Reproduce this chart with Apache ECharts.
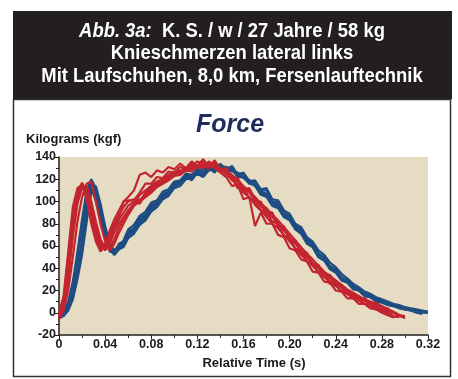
<!DOCTYPE html>
<html>
<head>
<meta charset="utf-8">
<script src="https://cdn.jsdelivr.net/npm/echarts@6/dist/echarts.min.js"></script>
<style>
  html, body { margin: 0; padding: 0; background: #fff; }
  #chart { width: 458px; height: 379px; }
</style>
</head>
<body>
<div id="chart"></div>
<script>
// relative time (s), shared by all traces
var times = [0, 0.004, 0.008, 0.012, 0.016, 0.020, 0.024, 0.028, 0.032, 0.036, 0.040, 0.044, 0.048, 0.052, 0.056, 0.060,
  0.065, 0.070, 0.075, 0.080, 0.085, 0.090, 0.095, 0.100, 0.105, 0.110, 0.115, 0.120,
  0.125, 0.130, 0.135, 0.140, 0.145, 0.150, 0.155, 0.160, 0.165, 0.170, 0.175, 0.180,
  0.185, 0.190, 0.195, 0.200, 0.205, 0.210, 0.215, 0.220, 0.225, 0.230, 0.235, 0.240,
  0.245, 0.250, 0.255, 0.260, 0.265, 0.270, 0.275, 0.280, 0.285, 0.290, 0.295, 0.300, 0.305, 0.310, 0.315, 0.320];

// blue traces (kgf)
var blue1 = [-3, -1, 5, 18, 40, 66, 96, 118, 104, 82, 66, 55, 54, 62, 64, 73,
  76, 86, 88, 97, 99, 107, 109, 117, 116, 123, 119, 126,
  124, 130, 126, 133, 127, 131, 123, 125, 119, 118, 110, 110,
  100, 99, 90, 87, 78, 75, 66, 62, 53, 50, 42, 39,
  32, 29, 23, 21, 16, 15, 11, 10, 7, 6, 5, 4, 3, 2, 1, null];
var blue2 = [-2, 0, 8, 25, 50, 78, 104, 116, 110, 90, 72, 60, 52, 57, 61, 69,
  73, 81, 85, 93, 97, 104, 107, 114, 116, 121, 121, 125,
  122, 128, 129, 129, 130, 128, 125, 121, 117, 114, 106, 104,
  96, 94, 86, 83, 75, 71, 62, 59, 50, 47, 40, 37,
  30, 28, 22, 20, 15, 14, 11, 10, 8, 7, 5, 4, 3, 2, 1, 0];
var blue3 = [-4, -2, 4, 14, 34, 58, 88, 112, 100, 84, 68, 57, 52, 58, 63, 71,
  75, 83, 87, 95, 99, 105, 108, 115, 118, 123, 123, 127,
  127, 128, 131, 131, 126, 129, 122, 122, 116, 115, 107, 105,
  99, 95, 88, 85, 77, 73, 65, 61, 53, 49, 41, 38,
  31, 29, 23, 22, 17, 16, 12, 11, 9, 7, 6, 4, 3, 1, null, null];
var blue4 = [-3, 0, 10, 28, 55, 84, 110, 120, 112, 92, 74, 62, 56, 61, 65, 75,
  79, 87, 91, 99, 101, 109, 111, 118, 119, 125, 124, 129,
  129, 132, 133, 132, 131, 130, 125, 125, 118, 117, 109, 107,
  100, 97, 89, 86, 78, 74, 66, 61, 53, 49, 41, 38,
  31, 29, 24, 22, 17, 16, 12, 11, 9, 7, 5, 3, 2, 0, -1, null];
var blue5 = [-5, -3, 2, 12, 30, 52, 82, 108, 114, 98, 78, 62, 54, 57, 59, 67,
  71, 79, 83, 91, 95, 102, 105, 112, 114, 120, 121, 125,
  124, 129, 129, 130, 129, 127, 126, 122, 119, 114, 109, 105,
  98, 95, 87, 84, 75, 72, 63, 59, 50, 47, 39, 36,
  29, 27, 21, 20, 15, 14, 10, 9, 7, 6, 4, 3, 2, 1, 0, 0];
var blue6 = [-4, -2, 3, 15, 36, 62, 92, 116, 108, 88, 70, 58, 53, 59, 62, 70,
  74, 84, 86, 96, 98, 106, 108, 116, 117, 124, 122, 128,
  126, 131, 128, 134, 128, 132, 124, 126, 118, 119, 111, 112,
  102, 101, 92, 89, 80, 77, 68, 64, 56, 52, 45, 41,
  35, 31, 26, 23, 19, 17, 14, 12, 10, 8, 7, 5, 4, 3, 2, 1];

// red traces (kgf)
var red1 = [-4, 12, 50, 90, 110, 116, 104, 84, 66, 57, 62, 74, 84, 92, 100, 104,
  110, 124, 126, 122, 128, 126, 131, 129, 134, 130, 136, 132,
  138, 131, 137, 129, 130, 122, 121, 111, 112, 102, 99, 91,
  90, 79, 76, 67, 63, 55, 52, 43, 41, 33, 31, 25,
  23, 17, 16, 11, 11, 7, 6, 2, 1, -3, -4, null, null, null, null, null];
var red2 = [-2, 8, 40, 80, 105, 114, 110, 92, 74, 60, 58, 66, 76, 84, 90, 96,
  100, 98, 106, 112, 116, 118, 122, 125, 127, 130, 129, 132,
  130, 134, 131, 128, 125, 121, 112, 113, 103, 101, 92, 90,
  82, 80, 69, 68, 57, 56, 46, 44, 36, 34, 26, 25,
  19, 17, 13, 12, 8, 7, 3, 3, -1, -4, null, null, null, null, null, null];
var red3 = [-5, 2, 20, 50, 82, 104, 116, 118, 100, 80, 64, 56, 62, 72, 80, 88,
  96, 100, 104, 110, 114, 118, 120, 124, 126, 128, 131, 130,
  133, 131, 134, 129, 126, 122, 118, 112, 108, 102, 96, 90,
  86, 80, 74, 68, 62, 56, 50, 45, 40, 35, 31, 27,
  23, 19, 16, 13, 11, 9, 7, 5, 2, 0, -3, -4, null, null, null, null];
var red4 = [0, 15, 55, 95, 112, 115, 102, 80, 64, 55, 60, 70, 80, 88, 95, 100,
  102, 100, 108, 114, 118, 120, 124, 127, 126, 130, 132, 136,
  133, 135, 130, 126, 122, 114, 115, 102, 104, 78, 90, 80,
  80, 70, 68, 58, 56, 48, 46, 37, 36, 28, 27, 20,
  19, 13, 13, 8, 8, 4, 3, 0, -2, -4, -3, null, null, null, null, null];
var red5 = [-3, 6, 35, 75, 100, 112, 112, 98, 78, 62, 56, 62, 72, 80, 86, 92,
  98, 102, 104, 108, 113, 116, 119, 123, 124, 128, 127, 131,
  132, 130, 133, 130, 127, 124, 119, 114, 109, 104, 98, 94,
  88, 83, 77, 71, 65, 59, 53, 48, 42, 37, 33, 29,
  25, 21, 18, 15, 12, 10, 8, 6, 3, 1, -2, -3, null, null, null, null];
var red6 = [-6, 4, 30, 68, 98, 113, 114, 100, 82, 66, 58, 58, 66, 76, 84, 90,
  98, 106, 110, 114, 117, 121, 123, 126, 128, 127, 131, 133,
  131, 136, 132, 129, 124, 120, 115, 108, 104, 97, 92, 86,
  80, 76, 70, 64, 58, 52, 47, 42, 37, 32, 28, 24,
  20, 17, 14, 11, 8, 6, 4, 1, -2, -4, null, null, null, null, null, null];
var red7 = [-3, 10, 46, 86, 108, 117, 108, 88, 70, 58, 59, 68, 79, 86, 100, 101,
  101, 108, 116, 116, 122, 121, 127, 126, 131, 129, 134, 131,
  136, 130, 135, 127, 128, 119, 119, 109, 110, 99, 100, 88,
  89, 77, 78, 65, 65, 53, 54, 43, 43, 34, 34, 26,
  25, 19, 18, 13, 13, 9, 9, 5, 4, 0, -2, -5, null, null, null, null];

var blueTraces = [blue1, blue2, blue3, blue4, blue5, blue6];
var redTraces = [red1, red2, red3, red4, red5, red6, red7];

var xTicks = [0, 0.04, 0.08, 0.12, 0.16, 0.20, 0.24, 0.28, 0.32];
var xTickText = ['0', '0.04', '0.08', '0.12', '0.16', '0.20', '0.24', '0.28', '0.32'];

var headerLines = ['K. S. / w / 27 Jahre / 58 kg', 'Knieschmerzen lateral links', 'Mit Laufschuhen, 8,0 km, Fersenlauftechnik'];

function pairs(vals) {
  return times.map(function (t, i) { return [t, vals[i]]; });
}

function trace(vals, color) {
  return {
    type: 'line',
    data: pairs(vals),
    showSymbol: false,
    silent: true,
    connectNulls: false,
    lineStyle: { color: color, width: 2.2 },
    animation: false
  };
}

var series = [];
blueTraces.forEach(function (v) { series.push(trace(v, '#1e4d82')); });
redTraces.forEach(function (v) { series.push(trace(v, '#c32530')); });

var chart = echarts.init(document.getElementById('chart'));
var sans = 'Liberation Sans, Arial, sans-serif';
var labelFont = { fontFamily: sans, fontWeight: 'bold', fontSize: 13, color: '#1a1a1a' };
var headFont = 'bold 20px ' + sans;

function headerText(y, content, rich) {
  return {
    type: 'text', x: 232, y: y, scaleX: 0.92, z: 10,
    style: { text: content, font: headFont, fill: '#fff', align: 'center', verticalAlign: 'middle', rich: rich }
  };
}

chart.setOption({
  animation: false,
  backgroundColor: '#fff',
  graphic: [
    { type: 'rect', shape: { x: 13.5, y: 99.5, width: 437, height: 277 }, style: { fill: '#fff', stroke: '#333', lineWidth: 1.5 }, z: -10 },
    { type: 'rect', shape: { x: 13, y: 11, width: 439, height: 88 }, style: { fill: '#231f20' }, z: -9 },
    headerText(31, '{i|Abb. 3a:}  ' + headerLines[0], { i: { font: 'italic bold 20px ' + sans, fill: '#fff' } }),
    headerText(53, headerLines[1]),
    headerText(76, headerLines[2])
  ],
  title: [
    {
      text: 'Force', left: 225, top: 108, textAlign: 'center',
      textStyle: { color: '#1f2c5a', fontFamily: sans, fontWeight: 'bold', fontStyle: 'italic', fontSize: 25 }
    },
    { text: 'Kilograms (kgf)', left: 21, top: 128, textStyle: labelFont },
    { text: 'Relative Time (s)', left: 249, top: 352, textAlign: 'center', textStyle: labelFont }
  ],
  grid: {
    left: 59, right: 30, top: 157, bottom: 44,
    show: true, backgroundColor: '#e6dcc3', borderWidth: 0
  },
  xAxis: {
    type: 'value', min: 0, max: 0.32, interval: 0.04,
    axisLine: { show: true, onZero: false, lineStyle: { color: '#222', width: 1.5 } },
    axisTick: { show: true, length: 4, lineStyle: { color: '#222' } },
    minorTick: { show: true, splitNumber: 2, length: 3, lineStyle: { color: '#222' } },
    splitLine: { show: false },
    axisLabel: {
      margin: 3, fontFamily: sans, fontWeight: 'bold', fontSize: 12.5, color: '#1a1a1a',
      formatter: function (v) {
        var i = xTicks.findIndex(function (t) { return Math.abs(t - v) < 1e-6; });
        return i >= 0 ? xTickText[i] : '';
      }
    }
  },
  yAxis: {
    type: 'value', min: -20, max: 140, interval: 20,
    axisLine: { show: true, lineStyle: { color: '#222', width: 1.5 } },
    axisTick: { show: true, length: 4, lineStyle: { color: '#222' } },
    minorTick: { show: true, splitNumber: 2, length: 3, lineStyle: { color: '#222' } },
    splitLine: { show: false },
    axisLabel: { margin: 3, fontFamily: sans, fontWeight: 'bold', fontSize: 12.5, color: '#1a1a1a' }
  },
  series: series
});
</script>
</body>
</html>
